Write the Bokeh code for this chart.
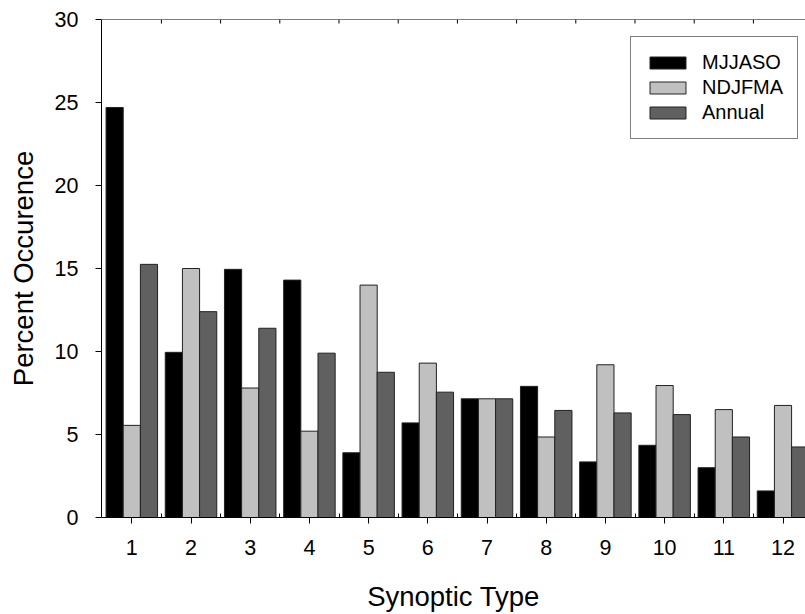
from bokeh.plotting import figure
from bokeh.models import Range1d, FixedTicker, Legend, LegendItem, ColumnDataSource, Span
from bokeh.transform import dodge
from bokeh.embed import file_html
from bokeh.resources import INLINE

types = list(range(1, 13))
type_labels = [str(t) for t in types]
mjjaso = [24.7, 9.95, 14.95, 14.3, 3.9, 5.7, 7.15, 7.9, 3.35, 4.35, 3.0, 1.6]
ndjfma = [5.55, 15.0, 7.8, 5.2, 14.0, 9.3, 7.15, 4.85, 9.2, 7.95, 6.5, 6.75]
annual = [15.25, 12.4, 11.4, 9.9, 8.75, 7.55, 7.15, 6.45, 6.3, 6.2, 4.85, 4.25]
series_names = ["MJJASO", "NDJFMA", "Annual"]
series_colors = ["#000000", "#c0c0c0", "#606060"]
y_ticks = [0, 5, 10, 15, 20, 25, 30]

FONT = "Liberation Sans"
src = ColumnDataSource(dict(type=types, MJJASO=mjjaso, NDJFMA=ndjfma, Annual=annual))

p = figure(width=805, height=614, x_range=Range1d(0.488, 12.38), y_range=Range1d(0, 30),
           output_backend="svg", toolbar_location=None,
           min_border_left=101, min_border_right=0, min_border_top=19, min_border_bottom=97,
           outline_line_color=None, background_fill_color="white", border_fill_color="white")
p.grid.visible = False

bw = 0.29
offsets = [-bw, 0.0, bw]
renderers = []
for name, col, off in zip(series_names, series_colors, offsets):
    r = p.vbar(x=dodge("type", off, range=p.x_range), top=name, width=bw, bottom=0, source=src,
               fill_color=col, line_color="#222222", line_width=1)
    renderers.append(r)

boundaries = [t + 0.5 for t in types[:-1]]

# top frame line with inward ticks at category boundaries
p.add_layout(Span(location=y_ticks[-1], dimension="width", line_color="black", line_width=1))
p.ray(x=boundaries, y=[y_ticks[-1]] * len(boundaries), length=4, length_units="screen",
      angle=-90, angle_units="deg", line_color="black", line_width=1)

xa = p.xaxis[0]
xa.ticker = FixedTicker(ticks=types, minor_ticks=boundaries)
xa.major_label_overrides = {t: l for t, l in zip(types, type_labels)}
xa.major_tick_out = 6
xa.major_tick_in = 0
xa.minor_tick_in = 4
xa.minor_tick_out = 0
xa.axis_label = "Synoptic Type"

ya = p.yaxis[0]
ya.ticker = FixedTicker(ticks=y_ticks)
ya.major_tick_out = 6
ya.major_tick_in = 0
ya.minor_tick_in = 0
ya.minor_tick_out = 0
ya.axis_label = "Percent Occurence"

for ax in (xa, ya):
    ax.axis_line_color = "black"
    ax.axis_line_width = 1
    ax.major_tick_line_color = "black"
    ax.minor_tick_line_color = "black"
    ax.major_label_text_font = FONT
    ax.major_label_text_font_size = "21.5px"
    ax.major_label_text_color = "black"
    ax.axis_label_text_font = FONT
    ax.axis_label_text_font_size = "27.5px"
    ax.axis_label_text_font_style = "normal"
    ax.axis_label_text_color = "black"
xa.major_label_standoff = 16
xa.axis_label_standoff = 23
ya.major_label_standoff = 17
ya.axis_label_standoff = 13

legend = Legend(items=[LegendItem(label=n, renderers=[r]) for n, r in zip(series_names, renderers)],
                location=(529, 378), margin=0, padding=14, spacing=2,
                glyph_width=45, glyph_height=15, label_height=15, label_standoff=12,
                label_text_font=FONT, label_text_font_size="20px", label_text_color="black",
                border_line_color="black", border_line_width=1,
                background_fill_color="white", background_fill_alpha=1)
p.add_layout(legend)

open("out.html", "w").write(file_html(p, INLINE))
